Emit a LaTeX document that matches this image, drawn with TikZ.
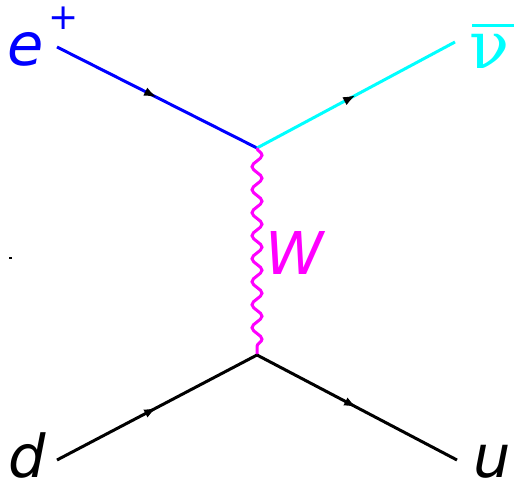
\documentclass[tikz,border=0pt]{standalone}
\usepackage{fontspec}
\setmainfont{DejaVu Sans}
\newfontfamily\serifnu{DejaVu Serif}
\usetikzlibrary{decorations.pathmorphing,decorations.markings,arrows.meta}
\definecolor{eblue}{RGB}{0,0,255}
\definecolor{ncyan}{RGB}{0,255,255}
\definecolor{wmag}{RGB}{255,0,255}
\begin{document}
\begin{tikzpicture}[x=1pt,y=-1pt,
  fermion/.style={line width=3pt, postaction={decorate},
    decoration={markings, mark=at position 0.5 with {\arrow[black]{Latex[length=13pt,width=9pt]}}}},
  boson/.style={line width=3pt, wmag, decorate,
    decoration={snake, amplitude=5pt, segment length=23pt}},
  lbl/.style={inner sep=0pt, anchor=base, font=\fontsize{59}{62}\selectfont\itshape}]
\useasboundingbox (0,0) rectangle (515,485);
\coordinate (ep) at (57,47);
\coordinate (v1) at (257,148);
\coordinate (nu) at (455,42);
\coordinate (v2) at (257,355);
\coordinate (d) at (57,460);
\coordinate (u) at (457,460);
\draw[fermion, eblue] (ep) -- (v1);
\draw[fermion, ncyan] (v1) -- (nu);
\draw[boson] (v1) -- (v2);
\draw[fermion, black] (d) -- (v2);
\draw[fermion, black] (v2) -- (u);
\node[lbl, text=eblue] (le) at (26,65) {e};
\node[inner sep=0pt, text=eblue, font=\fontsize{36}{40}\selectfont] (lp) at (64,18) {+};
\node[inner sep=0pt, anchor=base, text=ncyan, font=\fontsize{66}{70}\selectfont\serifnu] (lnu) at (490,68) {ν};
\draw[ncyan, line width=3pt] (472,25) -- (514,25);
\node[lbl, text=wmag] (lw) at (295,274) {W};
\node[lbl, text=black] (ld) at (27,477) {d};
\node[lbl, text=black] (lu) at (492,477) {u};
\fill[black] (9,257) rectangle (12,259);
\end{tikzpicture}
\end{document}
